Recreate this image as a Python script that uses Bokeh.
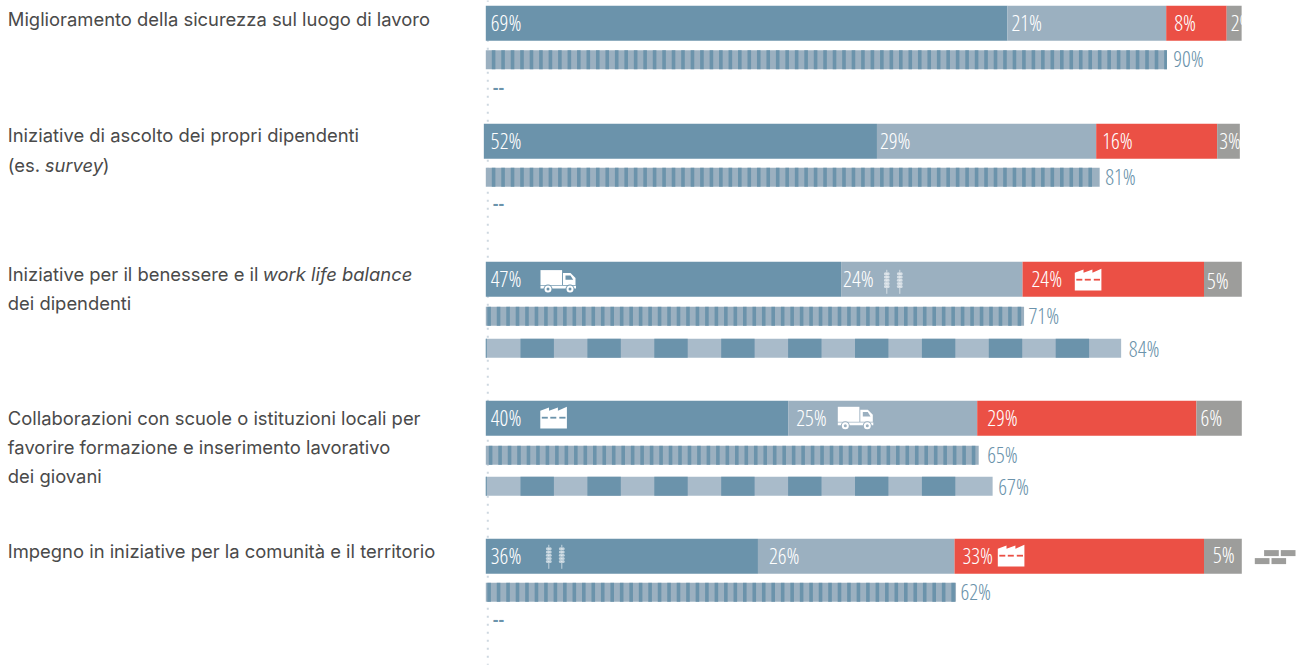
from bokeh.plotting import figure
from bokeh.models import Range1d
from bokeh.core.properties import value
from bokeh.embed import file_html
from bokeh.resources import INLINE
import numpy as np

# ---- data ----
segments = [[69, 21, 8, 2], [52, 29, 16, 3], [47, 24, 24, 5], [40, 25, 29, 6], [36, 26, 33, 5]]
totals_a = [90, 81, 71, 65, 62]
totals_b = [None, None, 84, 67, None]
seg_colors = ["#6b93ab", "#9bb0c0", "#eb5045", "#9d9d9b"]

# ---- layout (pixels in the picture) ----
W, H = 1298, 668
K = 7.56
X0 = 486
row_top = [6, 124, 262, 401, 539]
hatch_top = [50.5, 168, 307, 446, 583]
block_top = [None, None, 339, 477, None]
dash_y = [89, 205, None, None, 621]
row_start = [0, -0.26, 0, 0, 0]
seg_pad = [[5, 4, 8, 4], [7, 3, 6, 2], [5, 2, 9, 3], [5, 8, 10, 4], [5, 11, 8, 9]]
out_pad_a = [7, 7, 6, 10, 6]
out_pad_b = [None, None, 8, 6, None]
phase = [6, 6, 1.5, 3, 1.5]

def px(x):
    return (np.asarray(x, dtype=float) - X0) / K

p = figure(width=W, height=H, x_range=Range1d(px(0.7), px(W + 0.7)), y_range=Range1d(H + 0.7, 0.7),
           output_backend="svg", toolbar_location=None, min_border=0)
p.axis.visible = False
p.grid.visible = False
p.outline_line_color = None

LIGHT = "#9bb0c0"
DARK = "#6b93ab"

# dotted base line
p.segment([px(488)], [0], [px(488)], [665], line_color="#ced8e0", line_width=2, line_dash="2 6")

cond = value("Open Sans Condensed Light")

def label(x, y, txt, color="white", size="22px", font=cond):
    p.text([x], [y], text=[txt], text_color=color, text_font=font, text_font_size=size,
           text_baseline="middle", text_align="left")

for r, vals in enumerate(segments):
    c = np.cumsum([0] + vals) + row_start[r]
    top = row_top[r]
    p.quad(left=c[:-1], right=c[1:], top=top, bottom=top + 35, fill_color=seg_colors, line_color=None)
    for j, v in enumerate(vals):
        dy = 2 if (r == 2 and j == 3) else (-1 if r == 4 and j == 3 else 0)
        label(c[j] + seg_pad[r][j] / K, top + 16 + dy, f"{v}%")
    # striped total bar
    t = totals_a[r]
    ht = hatch_top[r]
    p.quad(left=[0], right=[t + (0.1 if r == 0 else 0.2)], top=ht, bottom=ht + 19, fill_color=LIGHT, line_color=None)
    end_px = X0 + (t + 0.1) * K
    starts = np.arange(X0 + phase[r], end_px - 2, 9.47)
    p.quad(left=px(starts), right=px(np.minimum(starts + 3.6, end_px)), top=ht, bottom=ht + 19,
           fill_color=DARK, line_color=None)
    label(t + out_pad_a[r] / K, ht + 8, f"{t}%", color=DARK)
    # block total bar
    b = totals_b[r]
    if b is not None:
        bt = block_top[r]
        end_b = X0 + b * K + 0.3
        p.quad(left=[0], right=[b + 0.04], top=bt, bottom=bt + 19, fill_color="#a9bbca", line_color=None)
        p.quad(left=[0], right=[px(487)], top=bt, bottom=bt + 19, fill_color=DARK, line_color=None)
        s = np.arange(X0 + 34.7, end_b - 10, 66.9)
        p.quad(left=px(s), right=px(np.minimum(s + 33.4, end_b)), top=bt, bottom=bt + 19,
               fill_color=DARK, line_color=None)
        label(b + out_pad_b[r] / K, bt + 9, f"{b}%", color=DARK)
    if dash_y[r] is not None:
        label(px(493), dash_y[r] - 1, "--", color=DARK, size="18px", font=value("Open Sans Condensed"))

# mask the clipped label that overruns its bar
p.quad(left=[100], right=[103], top=0, bottom=44, fill_color="white", line_color=None)

def poly(ox, oy, pts, color, alpha=1.0):
    pts = np.array(pts, dtype=float)
    p.patch(px(ox + pts[:, 0]), oy + pts[:, 1], fill_color=color, line_color=None, fill_alpha=alpha)

def truck(ox, oy, bg):
    poly(ox, oy, [(0, 0), (21.6, 0), (21.6, 15), (0, 15)], "white")
    poly(ox, oy, [(22.5, 3), (30, 3), (35, 8), (35, 15), (22.5, 15)], "white")
    poly(ox, oy, [(25, 5.3), (30, 5.3), (32.7, 9.7), (25, 9.7)], bg)
    poly(ox, oy, [(0, 15.6), (35.5, 15.6), (35.5, 18.4), (0, 18.4)], "white")
    for cx in (7.5, 29.5):
        for d, col in ((9, bg), (7, "white"), (3, bg)):
            p.scatter(px([ox + cx]), [oy + 19], size=d, marker="circle", fill_color=col, line_color=None)

def factory(ox, oy, bg):
    poly(ox, oy, [(0, 4), (8.7, 0.8), (8.7, 4), (17.6, 0.8), (17.6, 4), (26.6, 0), (26.6, 21.6), (0, 21.6)], "white")
    for a, b_ in ((1.5, 7.5), (10, 16), (19, 25.2)):
        poly(ox, oy, [(a, 10), (b_, 10), (b_, 11.8), (a, 11.8)], bg)

def wheat(ox, oy):
    for sx in (0, 13):
        cx = ox + sx
        p.segment(px([cx]), [oy], px([cx]), [oy + 24], line_color="white", line_width=1, line_alpha=0.6)
        ys = oy + np.arange(4, 17, 3.2)
        for side in (-1.4, 1.4):
            p.scatter(px(cx + side + 0 * ys), ys, size=3, marker="circle", fill_color="white",
                      fill_alpha=0.6, line_color=None)

truck(540.7, 270.3, seg_colors[0])
wheat(887, 270)
factory(1075, 269, seg_colors[2])
factory(540.5, 407, seg_colors[0])
truck(838, 407, seg_colors[1])
wheat(549, 545)
factory(998, 545, seg_colors[2])

# bricks
for (a, b_, t_) in ((1264.3, 1279, 550.3), (1281, 1295.7, 550.3), (1255, 1269.7, 558.3), (1271.7, 1286.3, 558.3)):
    p.quad(left=[px(a)], right=[px(b_)], top=t_, bottom=t_ + 6, fill_color="#9d9d9b", line_color=None)

# left labels
TXT = "#4a4a4a"
sans = value("Inter")
def text(x, y, s, style="normal"):
    p.text([px(x)], [y], text=[s], text_color=TXT, text_font=sans, text_font_size="18.4px",
           text_font_style=style, text_baseline="middle", text_align="left")

text(8, 19, "Miglioramento della sicurezza sul luogo di lavoro")
text(8, 135, "Iniziative di ascolto dei propri dipendenti")
text(8, 165, "(es. ")
text(45, 165, "survey", "italic")
text(103, 165, ")")
text(8, 274, "Iniziative per il benessere e il ")
text(263, 274, "work life balance", "italic")
text(8, 303, "dei dipendenti")
text(8, 418, "Collaborazioni con scuole o istituzioni locali per")
text(8, 447, "favorire formazione e inserimento lavorativo")
text(8, 476, "dei giovani")
text(8, 551, "Impegno in iniziative per la comunità e il territorio")

open("out.html", "w").write(file_html(p, INLINE))
